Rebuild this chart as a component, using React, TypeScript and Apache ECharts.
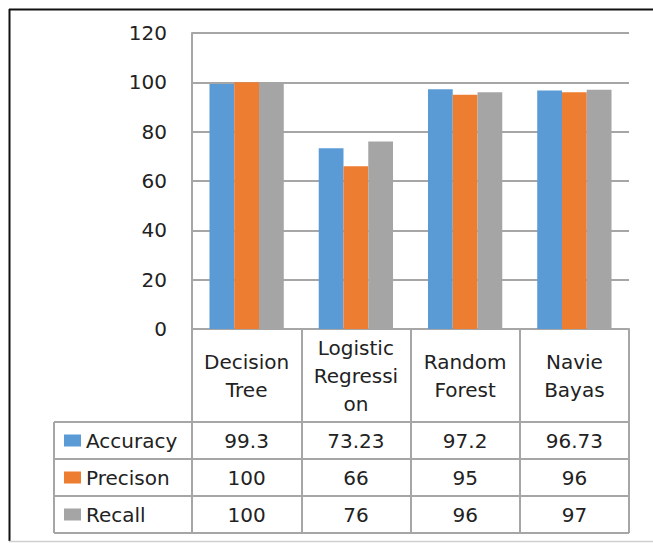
import React, { useEffect, useRef } from "react";
import * as echarts from "echarts";

const categories = ["Decision\nTree", "Logistic\nRegressi\non", "Random\nForest", "Navie\nBayas"];
const seriesNames = ["Accuracy", "Precison", "Recall"];
const accuracy = [99.3, 73.23, 97.2, 96.73];
const precision = [100, 66, 95, 96];
const recall = [100, 76, 96, 97];
const accuracyText = ["99.3", "73.23", "97.2", "96.73"];
const precisionText = ["100", "66", "95", "96"];
const recallText = ["100", "76", "96", "97"];
const colors = ["#5B9BD5", "#ED7D31", "#A5A5A5"];

const FONT = "DejaVu Sans";
const TEXT = "#222222";
const LINE = "#a6a6a6";

export default function App() {
  const ref = useRef<HTMLDivElement>(null);
  useEffect(() => {
    if (!ref.current) return;
    const chart = echarts.init(ref.current, null, { renderer: "svg" });
    const gridLeft = 192;
    const gridTop = 33;
    const gridW = 437;
    const gridH = 296;
    const base = gridTop + gridH; // 329
    const rows = [422, 459, 496, 533];
    const tableLeft = 54;
    const rowAxis = (data: string[], center: number) => ({
      type: "category",
      gridIndex: 0,
      position: "bottom",
      offset: center - base,
      data,
      axisLine: { show: false },
      axisTick: { show: false },
      splitLine: { show: false },
      axisLabel: {
        margin: 0,
        interval: 0,
        verticalAlign: "middle",
        fontFamily: FONT,
        fontSize: 20,
        color: TEXT,
      },
    });
    const lineEl = (x1: number, y1: number, x2: number, y2: number, stroke: string, w: number) => ({
      type: "line",
      shape: { x1, y1, x2, y2 },
      style: { stroke, lineWidth: w },
      silent: true,
    });
    const graphics: any[] = [];
    rows.forEach((y) => graphics.push(lineEl(tableLeft, y, gridLeft + gridW, y, LINE, 2)));
    graphics.push(lineEl(tableLeft, rows[0], tableLeft, rows[3], LINE, 2));
    // frame
    graphics.push(lineEl(9, 9.5, 653, 9.5, "#111", 2));
    graphics.push(lineEl(9.5, 9, 9.5, 541, "#111", 2));
    graphics.push(lineEl(9, 541.5, 653, 541.5, "#d0d0d0", 1.5));

    chart.setOption({
      animation: false,
      color: colors,
      grid: { left: gridLeft, top: gridTop, width: gridW, height: gridH, containLabel: false },
      legend: {
        orient: "vertical",
        left: 64,
        top: rows[0],
        padding: 0,
        itemGap: 0,
        itemWidth: 17,
        itemHeight: 12,
        icon: "rect",
        data: seriesNames,
        textStyle: { fontFamily: FONT, fontSize: 20, color: TEXT, lineHeight: 37 },
      },
      xAxis: [
        {
          type: "category",
          data: categories,
          axisLine: { show: true, onZero: false, lineStyle: { color: LINE, width: 2 } },
          axisTick: { show: true, alignWithLabel: false, length: rows[3] - base, lineStyle: { color: LINE, width: 2 } },
          axisLabel: {
            interval: 0,
            margin: (rows[0] - base) / 2,
            verticalAlign: "middle",
            lineHeight: 28,
            fontFamily: FONT,
            fontSize: 20,
            color: TEXT,
          },
        },
        rowAxis(accuracyText, (rows[0] + rows[1]) / 2),
        rowAxis(precisionText, (rows[1] + rows[2]) / 2),
        rowAxis(recallText, (rows[2] + rows[3]) / 2),
      ],
      yAxis: {
        type: "value",
        min: 0,
        max: 120,
        interval: 20,
        axisLine: { show: true, lineStyle: { color: LINE, width: 2 } },
        axisTick: { show: false },
        splitLine: { show: true, lineStyle: { color: LINE, width: 2 } },
        axisLabel: { margin: 25, fontFamily: FONT, fontSize: 20, color: TEXT },
      },
      series: [
        { name: seriesNames[0], type: "bar", xAxisIndex: 0, data: accuracy, barGap: "0%", barCategoryGap: "32%" },
        { name: seriesNames[1], type: "bar", xAxisIndex: 0, data: precision, barGap: "0%", barCategoryGap: "32%" },
        { name: seriesNames[2], type: "bar", xAxisIndex: 0, data: recall, barGap: "0%", barCategoryGap: "32%" },
      ],
      graphic: graphics,
    });
    return () => chart.dispose();
  }, []);
  return (
    <div
      ref={ref}
      style={{ position: "fixed", left: 0, top: 0, width: 653, height: 543, background: "#fff" }}
    />
  );
}
